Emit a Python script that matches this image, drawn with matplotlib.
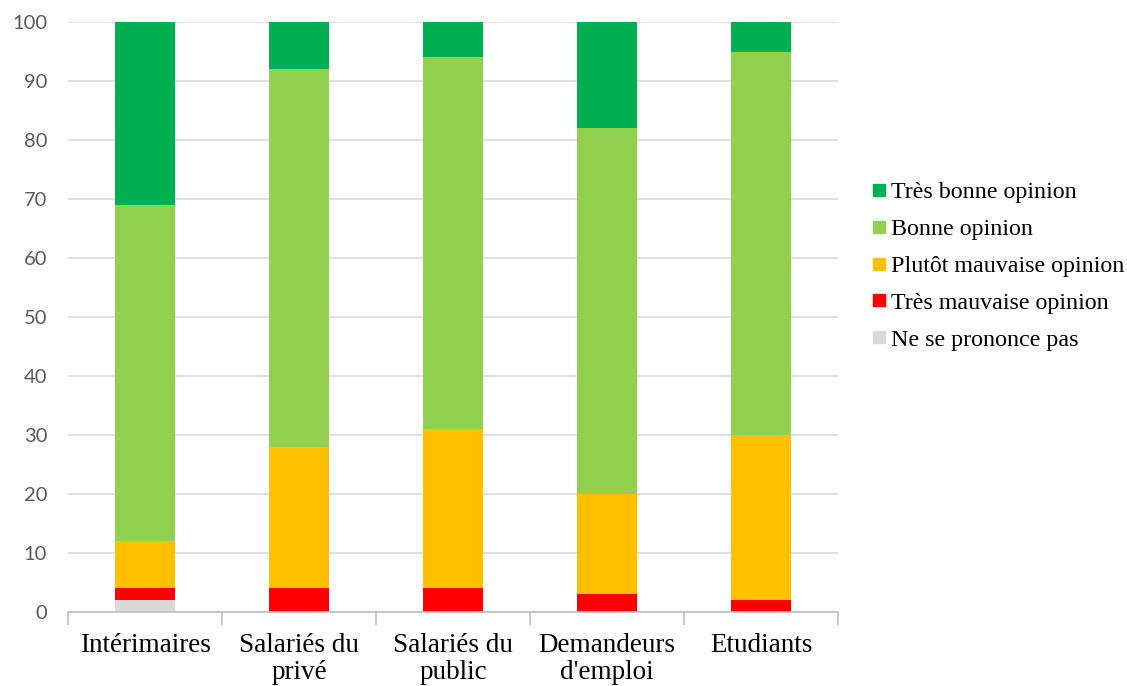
import matplotlib
matplotlib.use("Agg")
import matplotlib.pyplot as plt
import numpy as np
from matplotlib.lines import Line2D

categories = ["Intérimaires", "Salariés du\nprivé", "Salariés du\npublic", "Demandeurs\nd'emploi", "Etudiants"]
ne_se_prononce = [2, 0, 0, 0, 0]
tres_mauvaise = [2, 4, 4, 3, 2]
plutot_mauvaise = [8, 24, 27, 17, 28]
bonne = [57, 64, 63, 62, 65]
tres_bonne = [31, 8, 6, 18, 5]

series = [
    ("Ne se prononce pas", ne_se_prononce, "#D9D9D9"),
    ("Très mauvaise opinion", tres_mauvaise, "#FF0000"),
    ("Plutôt mauvaise opinion", plutot_mauvaise, "#FFC000"),
    ("Bonne opinion", bonne, "#92D050"),
    ("Très bonne opinion", tres_bonne, "#00B050"),
]

fig = plt.figure(figsize=(11.27, 6.86), dpi=100)
ax = fig.add_axes([68/1127, 1-612/686, 770/1127, 590/686])

x = np.arange(len(categories))
bottom = np.zeros(len(categories))
for name, vals, col in series:
    vals = np.array(vals, dtype=float)
    ax.bar(x, vals, bottom=bottom, width=0.396, color=col, label=name, zorder=3)
    bottom += vals

ax.set_xlim(-0.5, len(categories) - 0.5)
ax.set_ylim(0, 100)
ax.set_yticks(np.arange(0, 101, 10))
ax.yaxis.grid(True, color="#D9D9D9", linewidth=1.2, zorder=0)
ax.set_axisbelow(True)
for s in ["left", "right", "top"]:
    ax.spines[s].set_visible(False)
ax.spines["bottom"].set_color("#BFBFBF")
ax.spines["bottom"].set_linewidth(1.2)
ax.spines["bottom"].set_zorder(4)

ax.tick_params(axis="y", length=0, pad=15, labelsize=14.5, labelcolor="#595959")
for lab in ax.get_yticklabels():
    lab.set_family("Lato")

ax.set_xticks(x)
ax.set_xticklabels(categories, family="Liberation Serif", fontsize=19.5, color="#000000", linespacing=1.12)
ax.set_xticks(np.arange(-0.5, len(categories)), minor=True)
ax.tick_params(axis="x", which="major", length=0, pad=15)
ax.tick_params(axis="x", which="minor", length=9, width=1.2, color="#BFBFBF", direction="out")

handles = [Line2D([0], [0], marker="s", linestyle="none", markersize=8,
                  markerfacecolor=col, markeredgecolor=col) for _, _, col in series[::-1]]
labels = [name for name, _, _ in series[::-1]]
fig.legend(handles, labels, loc="center left", bbox_to_anchor=(857/1127, 1-266/686),
           frameon=False, prop={"family": "Liberation Serif", "size": 17.3},
           handletextpad=0.0, labelspacing=0.63, handlelength=1.0, borderaxespad=0)

fig.savefig("out.png", dpi=100)
